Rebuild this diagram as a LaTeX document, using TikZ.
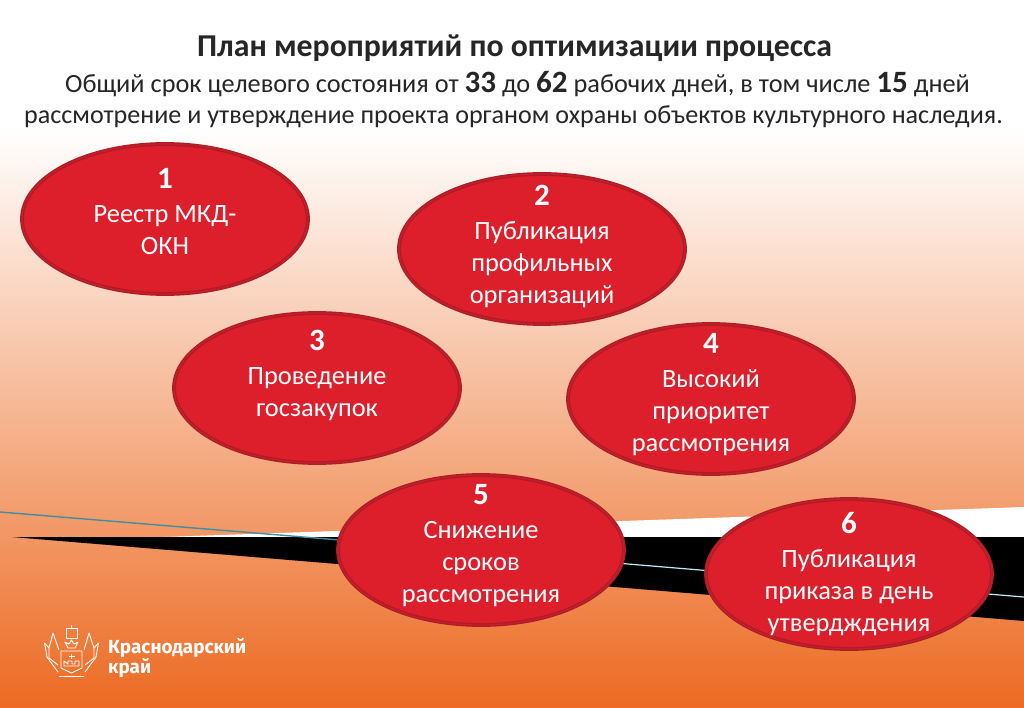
\documentclass[tikz,border=0pt]{standalone}
\usepackage{fontspec}
\setmainfont{Carlito}
\newfontfamily\logofont{Fira Sans}
\usetikzlibrary{positioning,shapes.geometric}
\definecolor{slideorange}{HTML}{EC6A22}
\definecolor{ovalred}{HTML}{DC1F2B}
\definecolor{ovaldark}{HTML}{AE1C26}
\definecolor{ovalmid}{HTML}{C4202B}
\definecolor{raytop}{HTML}{3F8FA3}
\pgfdeclareverticalshading{slidefade}{100bp}{color(0bp)=(slideorange); color(25bp)=(slideorange); color(65.8bp)=(white); color(100bp)=(white)}
\newcommand{\ovalnum}[1]{{\fontsize{31}{31}\selectfont\bfseries #1}}
\newcommand{\headnum}[1]{{\fontsize{31}{28}\selectfont\bfseries #1}}

\begin{document}
\begin{tikzpicture}[x=1pt,y=-1pt,
    oval/.style={ellipse, draw=ovaldark, line width=1.3pt, double=ovalmid, double distance=1.2pt, fill=ovalred,
        minimum width=286pt, minimum height=150pt, inner sep=0pt},
    ovaltext/.style={align=center, text=white, font=\fontsize{26.4}{32}\selectfont, inner sep=0pt},
    headline/.style={text=black!85, inner sep=0pt, font=\fontsize{26.1}{28}\selectfont},
    logoline/.style={draw=white, line width=0.9pt, line join=round}
]
\useasboundingbox (0,0) rectangle (1024,708);
\shade[shading=slidefade] (0,0) rectangle (1024,708);

% wedges behind the ovals
\fill[white] (164,537) -- (1024,507) -- (1024,560) -- (700,560) -- cycle;
\fill[black] (12,537) -- (1024,537) -- (1024,621) -- cycle;
\draw[raytop, line width=1.4pt] (0,512) -- (340,540);
\draw[cyan!25, line width=1.2pt] (340,540) -- (1024,597);

% heading
\node[headline, font=\fontsize{31.8}{32}\selectfont\bfseries] (title) at (514.5,48.5) {План мероприятий по оптимизации процесса};
\node[headline, font=\fontsize{26.3}{28}\selectfont] (line2) at (517.5,84) {Общий срок целевого состояния от \headnum{33} до \headnum{62} рабочих дней, в том числе \headnum{15} дней};
\node[headline] (line3) at (513.5,116.5) {рассмотрение и утверждение проекта органом охраны объектов культурного наследия.};

% ovals
\node[oval] (one) at (165,219) {};
\node[oval] (two) at (542,249) {};
\node[oval] (three) at (317,388) {};
\node[oval] (four) at (711,399) {};
\node[oval] (five) at (481,550) {};
\node[oval] (six) at (849,574) {};

\node[ovaltext, below=25pt of one.north] (onetext) {\ovalnum{1}\\[1.5pt]Реестр МКД-\\ОКН};
\node[ovaltext, below=12pt of two.north] (twotext) {\ovalnum{2}\\[1.5pt]Публикация\\профильных\\организаций};
\node[ovaltext, below=18pt of three.north] (threetext) {\ovalnum{3}\\[1.5pt]Проведение\\госзакупок};
\node[ovaltext, below=10pt of four.north] (fourtext) {\ovalnum{4}\\[1.5pt]Высокий\\приоритет\\рассмотрения};
\node[ovaltext, below=10pt of five.north] (fivetext) {\ovalnum{5}\\[1.5pt]Снижение\\сроков\\рассмотрения};
\node[ovaltext, below=14pt of six.north] (sixtext) {\ovalnum{6}\\[1.5pt]Публикация\\приказа в день\\утвердждения};

% logo
\draw[logoline] (66,628) rectangle (77,638);
\draw[logoline] (71.5,624.5) -- (71.5,628);
\draw[logoline] (65,642) -- (68,648) -- (75,648) -- (78,642) -- (74,644) -- (71.5,640) -- (69,644) -- cycle;
\draw[logoline] (61,651) -- (82,651) -- (82,668) -- (71.5,673) -- (61,668) -- cycle;
\draw[logoline] (64,661) -- (64,666) -- (79,666) -- (79,661) -- (75,661) -- (75,664) -- (72,664) -- (72,661) -- (68,661) -- (68,664) -- cycle;
\draw[logoline] (68.5,656) -- (74.5,656) (71.5,653.5) -- (71.5,658.5);
\draw[logoline] (44.5,643) -- (47,657) -- (58,672);
\draw[logoline] (44.5,643) -- (49,648) -- (53,633) -- (59,650);
\draw[logoline] (49,648) -- (49,658) -- (58,665);
\draw[logoline] (98.5,643) -- (96,657) -- (85,672);
\draw[logoline] (98.5,643) -- (94,648) -- (89,633) -- (84,650);
\draw[logoline] (94,648) -- (94,658) -- (85,665);
\draw[logoline] (59,676) -- (84,676);

\node[text=white, anchor=north west, inner sep=0pt, align=left, font=\logofont\fontsize{18.9}{18}\selectfont\bfseries] (logotext) at (108,638) {Краснодарский\\край};
\end{tikzpicture}
\end{document}
